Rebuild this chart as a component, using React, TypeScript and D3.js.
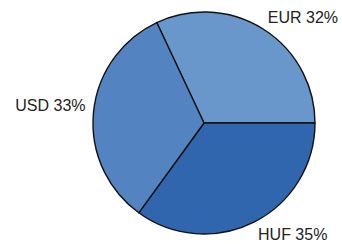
import * as d3 from "d3";
import React, { useEffect, useRef } from "react";

const currencies = ["EUR", "HUF", "USD"];
const shares = [32, 35, 33];
const colors = ["#6a97cb", "#2f66ae", "#5383c1"];

const App: React.FC = () => {
  const svgRef = useRef<SVGSVGElement | null>(null);

  useEffect(() => {
    if (!svgRef.current) return;
    const svg = d3.select(svgRef.current);
    svg.selectAll("*").remove();

    const width = 342;
    const height = 244;
    const cx = 204;
    const cy = 123;
    const r = 111;

    const data = currencies.map((c, i) => ({ name: c, value: shares[i], color: colors[i] }));
    const total = d3.sum(shares);
    const start = Math.PI / 2 - (shares[0] / total) * 2 * Math.PI;

    const pie = d3
      .pie<{ name: string; value: number; color: string }>()
      .sort(null)
      .value((d) => d.value)
      .startAngle(start)
      .endAngle(start + 2 * Math.PI);

    const arc = d3
      .arc<d3.PieArcDatum<{ name: string; value: number; color: string }>>()
      .innerRadius(0)
      .outerRadius(r);

    const g = svg.append("g").attr("transform", `translate(${cx},${cy})`);

    g.selectAll("path")
      .data(pie(data))
      .enter()
      .append("path")
      .attr("d", arc)
      .attr("fill", (d) => d.data.color)
      .attr("stroke", "#111")
      .attr("stroke-width", 1.4)
      .attr("stroke-linejoin", "round");

    // labels outside the slices
    g.selectAll("text")
      .data(pie(data))
      .enter()
      .append("text")
      .attr("x", (d) => Math.sin((d.startAngle + d.endAngle) / 2) * (r + 8))
      .attr("y", (d) => -Math.cos((d.startAngle + d.endAngle) / 2) * (r + 14))
      .attr("dy", (d) => (Math.abs(Math.cos((d.startAngle + d.endAngle) / 2)) < 0.3 ? "0" : "0.35em"))
      .attr("text-anchor", (d) =>
        Math.sin((d.startAngle + d.endAngle) / 2) >= 0 ? "start" : "end"
      )
      .attr("font-family", "'Liberation Sans', Arial, sans-serif")
      .attr("font-size", "16px")
      .attr("fill", "#222")
      .text((d) => `${d.data.name} ${d.data.value}%`);

    svg.attr("viewBox", `0 0 ${width} ${height}`);
  }, []);

  return (
    <svg
      ref={svgRef}
      width={342}
      height={244}
      style={{ position: "absolute", left: 0, top: 0, background: "#fff" }}
    ></svg>
  );
};

export default App;
